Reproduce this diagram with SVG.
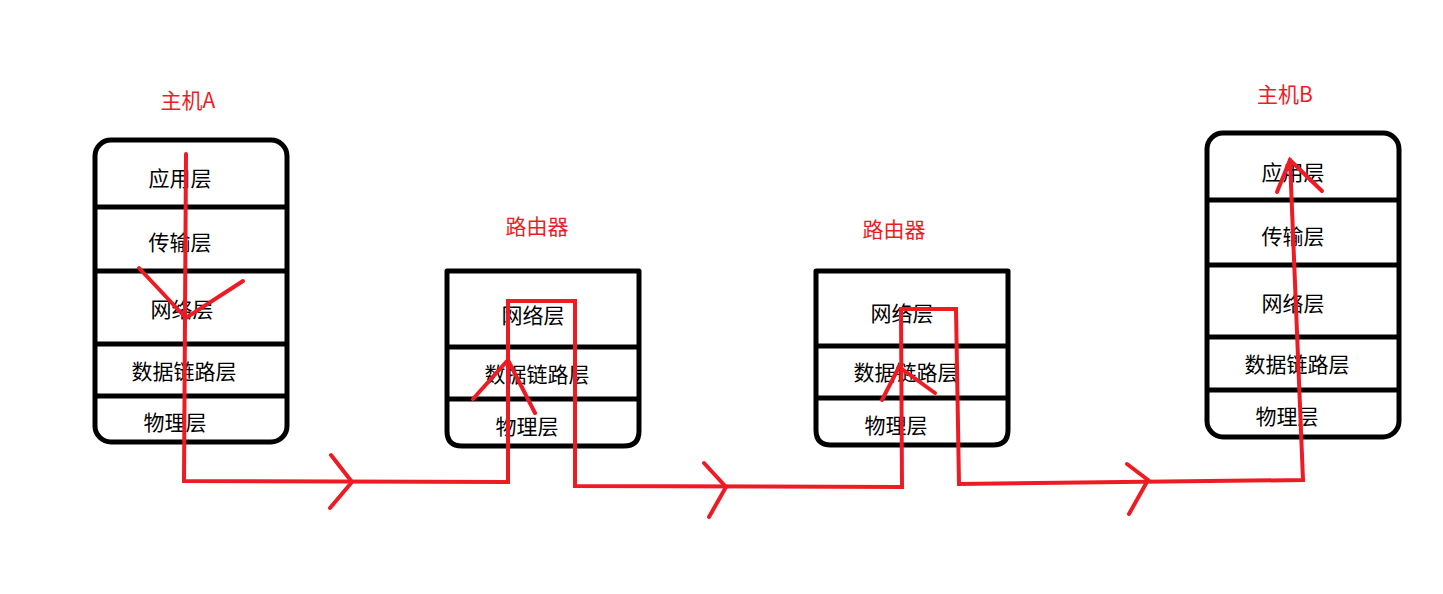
<svg xmlns="http://www.w3.org/2000/svg" width="1443" height="594" viewBox="0 0 1443 594">
<style>
.box{fill:none;stroke:#000;stroke-width:5;stroke-linejoin:round}
.div{stroke:#000;stroke-width:5}
.t{font-family:"Microsoft YaHei","Noto Sans CJK SC",sans-serif;font-size:21px;fill:#000;text-anchor:middle;dominant-baseline:central}
.lbl{font-family:"Microsoft YaHei","Noto Sans CJK SC",sans-serif;font-size:21px;fill:#ED1C24;text-anchor:middle;dominant-baseline:central}
.r{fill:none;stroke:#ED1C24;stroke-width:4;stroke-linejoin:miter;stroke-linecap:round}
</style>
<rect width="1443" height="594" fill="#fff"/>
<g id="hostA">
<text class="lbl" x="188" y="99">主机A</text>
<rect class="box" x="95" y="140" width="192" height="302" rx="16"/>
<line class="div" x1="95" y1="207" x2="287" y2="207"/>
<line class="div" x1="95" y1="271" x2="287" y2="271"/>
<line class="div" x1="95" y1="344" x2="287" y2="344"/>
<line class="div" x1="95" y1="396" x2="287" y2="396"/>
<text class="t" x="180" y="177">应用层</text>
<text class="t" x="180" y="241">传输层</text>
<text class="t" x="182" y="308">网络层</text>
<text class="t" x="184" y="370">数据链路层</text>
<text class="t" x="175" y="421">物理层</text>
</g>
<g id="router1">
<text class="lbl" x="537" y="225">路由器</text>
<path class="box" d="M447,271 L447,431 Q447,446 462,446 L624,446 Q639,446 639,431 L639,271 Z" stroke-linejoin="miter"/>
<line class="div" x1="447" y1="347" x2="639" y2="347"/>
<line class="div" x1="447" y1="399" x2="639" y2="399"/>
<text class="t" x="533" y="314">网络层</text>
<text class="t" x="537" y="373">数据链路层</text>
<text class="t" x="527" y="425">物理层</text>
</g>
<g id="router2">
<text class="lbl" x="894" y="228">路由器</text>
<path class="box" d="M816,271 L816,430 Q816,445 831,445 L993,445 Q1008,445 1008,430 L1008,271 Z" stroke-linejoin="miter"/>
<line class="div" x1="816" y1="346" x2="1008" y2="346"/>
<line class="div" x1="816" y1="398" x2="1008" y2="398"/>
<text class="t" x="902" y="312">网络层</text>
<text class="t" x="906" y="371">数据链路层</text>
<text class="t" x="896" y="424">物理层</text>
</g>
<g id="hostB">
<text class="lbl" x="1285" y="93">主机B</text>
<rect class="box" x="1207" y="133" width="192" height="304" rx="16"/>
<line class="div" x1="1207" y1="200" x2="1399" y2="200"/>
<line class="div" x1="1207" y1="265" x2="1399" y2="265"/>
<line class="div" x1="1207" y1="337" x2="1399" y2="337"/>
<line class="div" x1="1207" y1="390" x2="1399" y2="390"/>
<text class="t" x="1293" y="171">应用层</text>
<text class="t" x="1293" y="235">传输层</text>
<text class="t" x="1293" y="302">网络层</text>
<text class="t" x="1297" y="363">数据链路层</text>
<text class="t" x="1287" y="415">物理层</text>
</g>
<g id="connectors">
<polyline class="r" points="186,154 184,481 508,482 508,301 575,301 575,486 902,487 901,309 956,309 959,484 1303,480 1290,160"/>
<polyline class="r" points="139,268 186,318 243,281"/>
<polyline class="r" points="331,455 352,482 330,508"/>
<polyline class="r" points="473,399 508,360 535,413"/>
<polyline class="r" points="704,463 726,487 709,517"/>
<polyline class="r" points="882,400 899,367 935,393"/>
<polyline class="r" points="1127,464 1148,480 1129,514"/>
<polyline class="r" points="1277,192 1290,160 1322,191"/>
</g>
</svg>
